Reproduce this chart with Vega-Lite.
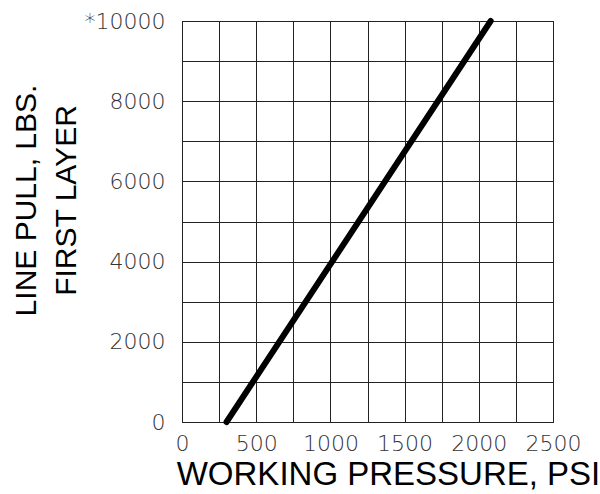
{
  "$schema": "https://vega.github.io/schema/vega-lite/v6.json",
  "width": 371,
  "height": 401,
  "autosize": "none",
  "padding": {"left": 182, "top": 21, "right": 47, "bottom": 72},
  "background": "white",
  "config": {
    "view": {"stroke": "#222", "strokeWidth": 1},
    "axis": {
      "labelFont": "DejaVu Sans",
      "titleFont": "Liberation Sans"
    }
  },
  "data": {
    "values": [
      {"pressure": 300, "pull": 0},
      {"pressure": 2080, "pull": 10000}
    ]
  },
  "mark": {"type": "line", "color": "black", "strokeWidth": 6, "strokeCap": "round"},
  "encoding": {
    "x": {
      "field": "pressure",
      "type": "quantitative",
      "scale": {"domain": [0, 2500], "nice": false, "zero": false},
      "axis": {
        "values": [0, 250, 500, 750, 1000, 1250, 1500, 1750, 2000, 2250, 2500],
        "labelExpr": "datum.value % 500 == 0 ? format(datum.value, 'd') : ''",
        "grid": true,
        "gridColor": "#222",
        "gridOpacity": 1,
        "gridWidth": 1,
        "domain": true,
        "domainColor": "#222",
        "ticks": false,
        "labelPadding": 11,
        "labelFontSize": 22,
        "labelFontWeight": 200,
        "labelColor": "#333",
        "labelFlush": false,
        "labelOverlap": false,
        "title": "WORKING PRESSURE, PSI",
        "titleFontSize": 33,
        "titleFontWeight": "normal",
        "titleColor": "black",
        "titleX": 206,
        "titleY": 62,
        "titleAlign": "center",
        "titleBaseline": "alphabetic"
      }
    },
    "y": {
      "field": "pull",
      "type": "quantitative",
      "scale": {"domain": [0, 10000], "nice": false},
      "axis": {
        "values": [0, 1000, 2000, 3000, 4000, 5000, 6000, 7000, 8000, 9000, 10000],
        "labelExpr": "datum.value == 10000 ? '*10000' : (datum.value % 2000 == 0 ? format(datum.value, 'd') : '')",
        "grid": true,
        "gridColor": "#222",
        "gridOpacity": 1,
        "gridWidth": 1,
        "domain": true,
        "domainColor": "#222",
        "ticks": false,
        "labelPadding": 17,
        "labelFontSize": 22,
        "labelFontWeight": 200,
        "labelColor": "#333",
        "labelFlush": false,
        "labelOverlap": false,
        "title": ["LINE PULL, LBS.", "FIRST LAYER"],
        "titleFontSize": 30,
        "titleFontWeight": "normal",
        "titleColor": "black",
        "titleAngle": -90,
        "titleAlign": "center",
        "titleBaseline": "alphabetic",
        "titleLineHeight": 40,
        "titleX": -147,
        "titleY": 179
      }
    }
  }
}
